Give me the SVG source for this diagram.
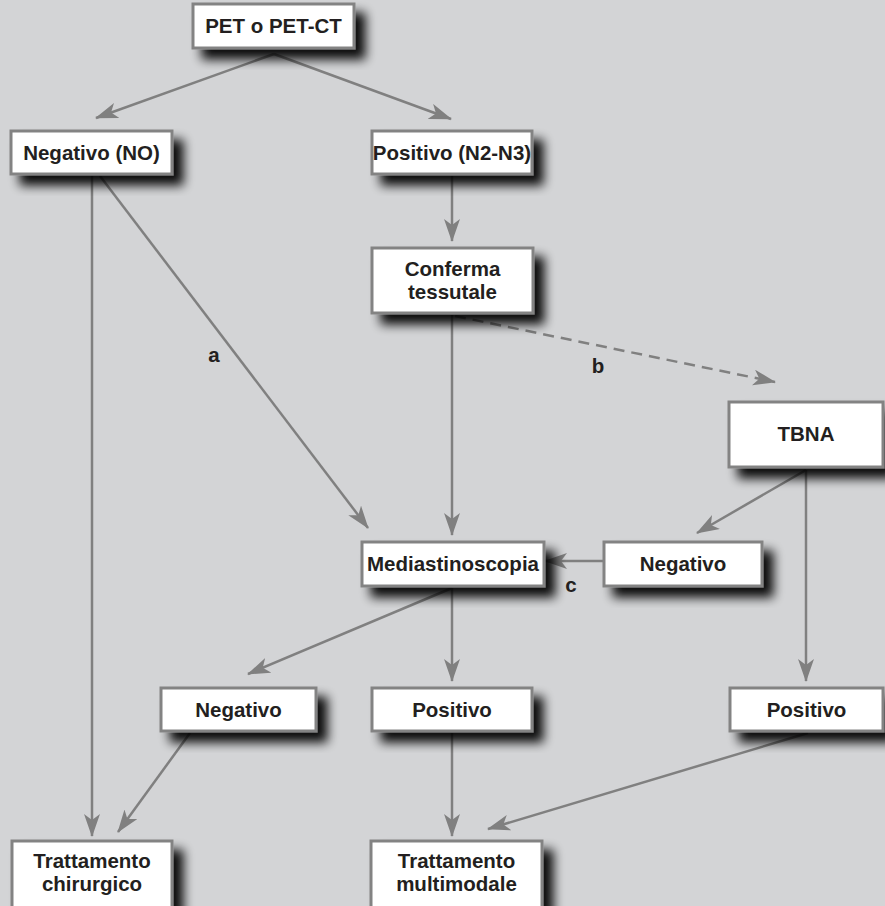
<svg xmlns="http://www.w3.org/2000/svg" width="885" height="906" viewBox="0 0 885 906">
  <defs>
    <filter id="shadow" x="-20%" y="-30%" width="150%" height="180%">
      <feGaussianBlur in="SourceAlpha" stdDeviation="5.5"/>
      <feOffset dx="10" dy="10" result="blur"/>
      <feComponentTransfer><feFuncA type="linear" slope="0.95"/></feComponentTransfer>
      <feMerge><feMergeNode/><feMergeNode in="SourceGraphic"/></feMerge>
    </filter>
    <marker id="arrow" markerUnits="userSpaceOnUse" markerWidth="24" markerHeight="18" refX="22" refY="8" orient="auto">
      <path d="M0,0 L23,8 L0,16 L6,8 Z" fill="#808080"/>
    </marker>
  </defs>
  <style>
    .box { fill: #ffffff; stroke: #838383; stroke-width: 3; filter: url(#shadow); }
    .lbl { font-family: "Liberation Sans", Arial, Helvetica, sans-serif; font-weight: bold; font-size: 20.5px; fill: #231f20; text-anchor: middle; }
    .tag { font-family: "Liberation Sans", Arial, Helvetica, sans-serif; font-weight: bold; font-size: 20.5px; fill: #231f20; text-anchor: middle; }
    .edge { fill: none; stroke: #808080; stroke-width: 2.5; marker-end: url(#arrow); }
    .dash { stroke-dasharray: 11 7; }
  </style>

  <rect x="0" y="0" width="885" height="906" fill="#d3d4d6"/>

  <!-- connectors -->
  <g id="connectors">
    <path class="edge" d="M274,54 L96,118"/>
    <path class="edge" d="M274,54 L451,119"/>
    <path class="edge" d="M92,176 L92,836"/>
    <path class="edge" d="M100,176 L368,528"/>
    <path class="edge" d="M452,176 L452,241"/>
    <path class="edge" d="M452,315 L452,535"/>
    <path class="edge dash" d="M455,316 L775,382"/>
    <path class="edge" d="M806,470 L697,533"/>
    <path class="edge" d="M806,470 L806,681"/>
    <path class="edge" d="M604,561 L545,561"/>
    <path class="edge" d="M452,588 L248,674"/>
    <path class="edge" d="M452,588 L452,681"/>
    <path class="edge" d="M190,733 L118,832"/>
    <path class="edge" d="M452,733 L452,836"/>
    <path class="edge" d="M808,733 L488,829"/>
    <text class="tag" x="214" y="362">a</text>
    <text class="tag" x="598" y="373">b</text>
    <text class="tag" x="571" y="592">c</text>
  </g>

  <!-- nodes -->
  <g id="pet">
    <rect class="box" x="193" y="4" width="161" height="44"/>
    <text class="lbl" x="273.5" y="33">PET o PET-CT</text>
  </g>
  <g id="negativo-n0">
    <rect class="box" x="11" y="131" width="161" height="43"/>
    <text class="lbl" x="91.5" y="160">Negativo (NO)</text>
  </g>
  <g id="positivo-n2n3">
    <rect class="box" x="372" y="131" width="160" height="43"/>
    <text class="lbl" x="452" y="160">Positivo (N2-N3)</text>
  </g>
  <g id="conferma">
    <rect class="box" x="372" y="248" width="161" height="65"/>
    <text class="lbl" x="452.5" y="276">Conferma</text>
    <text class="lbl" x="452.5" y="299">tessutale</text>
  </g>
  <g id="tbna">
    <rect class="box" x="729" y="402" width="154" height="65"/>
    <text class="lbl" x="806" y="441">TBNA</text>
  </g>
  <g id="mediastinoscopia">
    <rect class="box" x="362" y="542" width="182" height="44"/>
    <text class="lbl" x="453" y="571">Mediastinoscopia</text>
  </g>
  <g id="negativo-tbna">
    <rect class="box" x="604" y="542" width="158" height="44"/>
    <text class="lbl" x="683" y="571">Negativo</text>
  </g>
  <g id="negativo-med">
    <rect class="box" x="161" y="688" width="155" height="43"/>
    <text class="lbl" x="238.5" y="717">Negativo</text>
  </g>
  <g id="positivo-med">
    <rect class="box" x="372" y="688" width="160" height="43"/>
    <text class="lbl" x="452" y="717">Positivo</text>
  </g>
  <g id="positivo-tbna">
    <rect class="box" x="730" y="688" width="153" height="43"/>
    <text class="lbl" x="806.5" y="717">Positivo</text>
  </g>
  <g id="chirurgico">
    <rect class="box" x="12" y="841" width="160" height="75"/>
    <text class="lbl" x="92" y="868">Trattamento</text>
    <text class="lbl" x="92" y="891">chirurgico</text>
  </g>
  <g id="multimodale">
    <rect class="box" x="371" y="841" width="171" height="75"/>
    <text class="lbl" x="456.5" y="868">Trattamento</text>
    <text class="lbl" x="456.5" y="891">multimodale</text>
  </g>
</svg>
